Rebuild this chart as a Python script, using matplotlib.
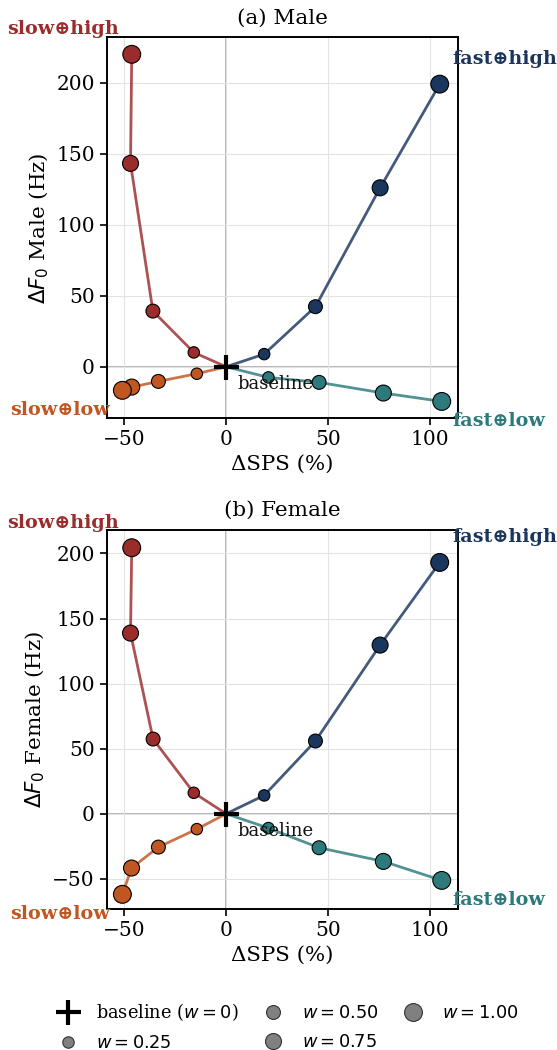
import matplotlib
matplotlib.use("Agg")
import matplotlib.pyplot as plt
from matplotlib.lines import Line2D

plt.rcParams['font.family'] = ['DejaVu Serif']
plt.rcParams['mathtext.fontset'] = 'dejavusans'

weights = [0.25, 0.50, 0.75, 1.00]
series_names = ["slow⊕high", "fast⊕high", "slow⊕low", "fast⊕low"]

# Male panel: (ΔSPS %, ΔF0 Hz)
male_sps = {
    "slow⊕high": [-15.9, -36.0, -47.0, -46.4],
    "fast⊕high": [18.7, 43.9, 75.7, 105.0],
    "slow⊕low": [-14.4, -33.3, -46.4, -51.0],
    "fast⊕low": [20.8, 45.7, 77.3, 106.0],
}
male_f0 = {
    "slow⊕high": [10.1, 39.2, 143.2, 220.0],
    "fast⊕high": [8.9, 42.3, 126.0, 199.0],
    "slow⊕low": [-4.9, -10.3, -14.3, -16.6],
    "fast⊕low": [-7.5, -11.0, -18.5, -24.4],
}
# Female panel
female_sps = {
    "slow⊕high": [-15.9, -35.9, -47.0, -46.4],
    "fast⊕high": [18.7, 43.9, 75.7, 105.0],
    "slow⊕low": [-14.4, -33.3, -46.5, -51.0],
    "fast⊕low": [20.8, 45.7, 77.3, 106.0],
}
female_f0 = {
    "slow⊕high": [16.1, 57.4, 138.8, 204.4],
    "fast⊕high": [14.1, 55.9, 129.6, 193.1],
    "slow⊕low": [-11.8, -25.6, -41.7, -61.9],
    "fast⊕low": [-11.0, -26.1, -36.6, -51.2],
}

marker_colors = {
    "slow⊕high": "#9B2C2C",
    "fast⊕high": "#1B365D",
    "slow⊕low": "#C05621",
    "fast⊕low": "#2C7A7B",
}
label_style = {
    "slow⊕high": dict(xytext=(-9, 18), ha="right"),
    "fast⊕high": dict(xytext=(9, 18), ha="left"),
    "slow⊕low": dict(xytext=(-9, -14), ha="right"),
    "fast⊕low": dict(xytext=(8, -14), ha="left"),
}


def size(w):
    return 35 + 130 * w


fig = plt.figure(figsize=(5.57, 10.5), dpi=100)
ax_a = fig.add_axes([0.1916, 0.6016, 0.6307, 0.3629])
ax_b = fig.add_axes([0.1916, 0.1340, 0.6307, 0.3612])

panels = [
    (ax_a, male_sps, male_f0, "(a) Male", r"$\Delta F_0$ Male (Hz)", (-36.3, 232), [0, 50, 100, 150, 200]),
    (ax_b, female_sps, female_f0, "(b) Female", r"$\Delta F_0$ Female (Hz)", (-73.4, 218), [-50, 0, 50, 100, 150, 200]),
]

for ax, sps, f0, title, ylabel, ylim, yticks in panels:
    ax.grid(True, color="#e3e3e3", linewidth=0.8, zorder=0)
    ax.axhline(0, color="#a0a0a0", linewidth=1.1, zorder=1)
    ax.axvline(0, color="#a0a0a0", linewidth=1.1, zorder=1)
    for name in series_names:
        xs = [0] + sps[name]
        ys = [0] + f0[name]
        ax.plot(xs, ys, color=marker_colors[name], alpha=0.82, linewidth=2.0, zorder=2)
        ax.scatter(sps[name], f0[name], s=[size(w) for w in weights],
                   color=marker_colors[name], edgecolor="black", linewidth=0.8, zorder=3)
        ax.annotate(name, (sps[name][-1], f0[name][-1]), textcoords="offset points",
                    va="center", fontsize=13.8, fontweight="bold", color=marker_colors[name],
                    annotation_clip=False, **label_style[name])
    ax.plot([0], [0], marker="+", color="black", markersize=18, mew=3, linestyle="none", zorder=4)
    ax.annotate("baseline", (0, 0), xytext=(8, -12.5), textcoords="offset points",
                va="center", ha="left", fontsize=13, color="#111111", zorder=5)
    ax.set_xlim(-58.7, 114)
    ax.set_ylim(*ylim)
    ax.set_xticks([-50, 0, 50, 100])
    ax.set_yticks(yticks)
    ax.tick_params(labelsize=14.5, width=1.2, length=5)
    for sp in ax.spines.values():
        sp.set_linewidth(1.4)
    ax.set_title(title, fontsize=15.4, pad=10)
    ax.set_xlabel("ΔSPS (%)", fontsize=15.4)
    ax.set_ylabel(ylabel, fontsize=15.4)

handles = [Line2D([], [], marker="+", color="black", markersize=18, mew=3, linestyle="none")]
labels = [r"baseline ($w=0$)"]
for w in weights:
    handles.append(Line2D([], [], marker="o", color="#808080", markeredgecolor="#333333",
                          markeredgewidth=0.8, markersize=(size(w)) ** 0.5, linestyle="none"))
    labels.append(r"$w=%.2f$" % w)
fig.legend(handles, labels, loc="lower center", bbox_to_anchor=(0.51, -0.017), ncol=3,
           frameon=False, fontsize=12.8, handletextpad=0.6, columnspacing=0.95,
           labelspacing=0.6)

fig.savefig("out.png", dpi=100)
